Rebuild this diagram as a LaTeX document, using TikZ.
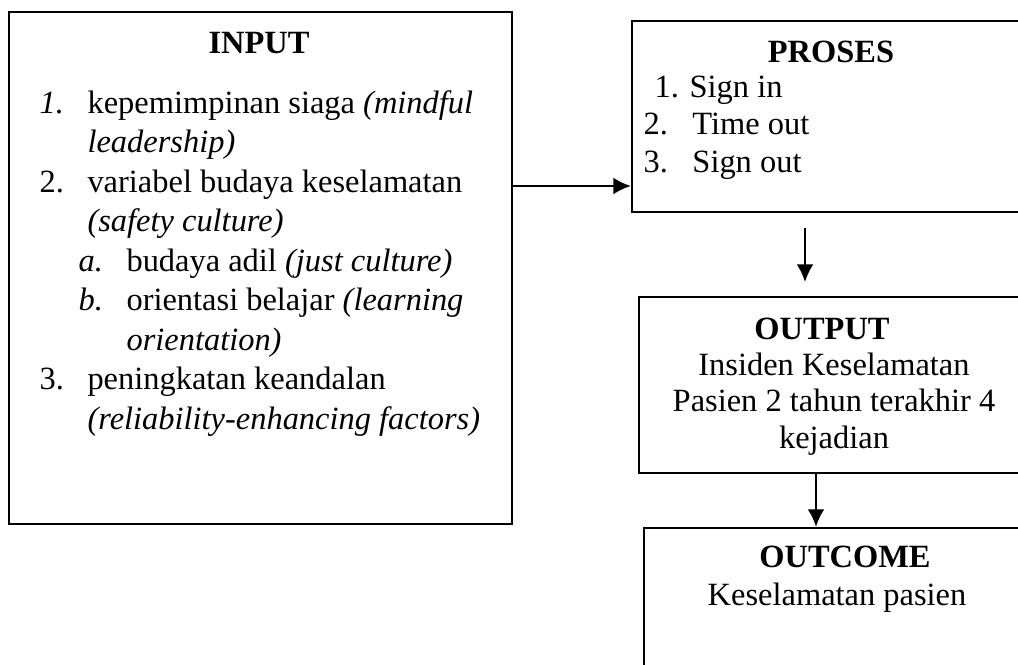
\documentclass[tikz,border=0pt]{standalone}
\usepackage{fontspec}
\setmainfont{Liberation Serif}
\usetikzlibrary{arrows.meta, positioning}

% list labels
\newcommand{\lbl}[1]{\makebox[17.75pt][l]{#1}}
\newcommand{\sublbl}[1]{\hspace*{14.43pt}\makebox[17.75pt][l]{#1}}

\begin{document}
\begin{tikzpicture}[x=0.013cm, y=-0.013cm, font=\fontsize{12}{14}\selectfont,
  box/.style={draw, line width=0.8pt, inner sep=0pt},
  title/.style={anchor=base, font=\fontsize{12}{14}\selectfont\bfseries},
  body/.style={anchor=base, align=center, font=\fontsize{12}{13.5}\selectfont},
  arr/.style={-{Latex[length=6.5pt,width=6.2pt]}, line width=0.8pt}]
\useasboundingbox (0,0) rectangle (1018,664);
\clip (0,0) rectangle (1018,664);

% boxes
\node[box, minimum width={503*0.013cm}, minimum height={512*0.013cm}] (input) at (260.5,268) {};
\node[box, minimum width={398*0.013cm}, minimum height={191*0.013cm}] (proses) at (831,116.5) {};
\node[box, minimum width={391*0.013cm}, minimum height={176*0.013cm}] (output) at (834.5,385) {};
\node[box, minimum width={391*0.013cm}, minimum height={192*0.013cm}] (outcome) at (839.5,624) {};

% titles
\node[title] (tin) at (259,53) {INPUT};
\node[title] (tpr) at (831,62) {PROSES};
\node[title] (tout) at (822,339) {OUTPUT};
\node[title] (tcome) at (845,567) {OUTCOME};

% contents (base = last line)
\node[anchor=base west, align=left, inner sep=0pt, font=\fontsize{12}{14.6}\selectfont] (inlist) at (39,429) {%
\lbl{\textit{1.}}kepemimpinan siaga \textit{(mindful}\\
\hspace*{17.75pt}\textit{leadership)}\\
\lbl{2.}variabel budaya keselamatan\\
\hspace*{17.75pt}\textit{(safety culture)}\\
\sublbl{\textit{a.}}budaya adil \textit{(just culture)}\\
\sublbl{\textit{b.}}orientasi belajar \textit{(learning}\\
\hspace*{32.18pt}\textit{orientation)}\\
\lbl{3.}peningkatan keandalan\\
\hspace*{17.75pt}\textit{(reliability-enhancing factors)}};
\node[anchor=base west, align=left, inner sep=0pt, font=\fontsize{12}{13.7}\selectfont] (prlist) at (643,172) {%
\hspace*{4.07pt}1. Sign in\\
\makebox[18.1pt][l]{2.}Time out\\
\makebox[18.1pt][l]{3.}Sign out};
\node[body] (outtxt) at (834,448) {Insiden Keselamatan\\ Pasien 2 tahun terakhir 4\\ kejadian};
\node[body] (cometxt) at (837,605) {Keselamatan pasien};

% connectors
\coordinate (lvl) at (0,186);
\coordinate (p2a) at (805,228);
\coordinate (p2b) at (805,282);
\coordinate (o2x) at (816,0);
\draw[arr] (input.east |- lvl) -- (proses.west |- lvl);
\draw[arr] (p2a) -- (p2b);
\draw[arr] (output.south -| o2x) -- (outcome.north -| o2x);
\end{tikzpicture}
\end{document}
